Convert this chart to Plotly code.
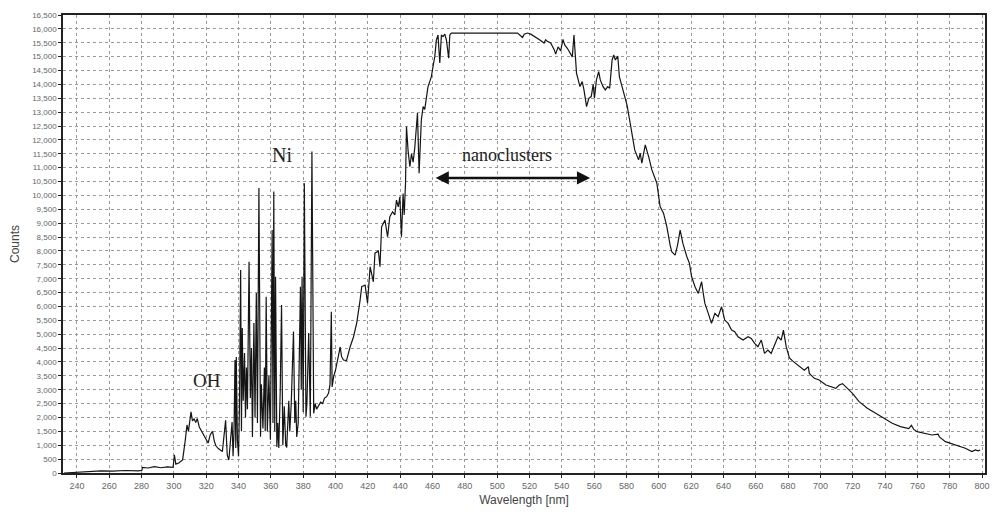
import plotly.graph_objects as go

# Spectrum: wavelength (nm) and counts
wavelength = [
    232, 249.8, 255, 262, 270, 278, 280.2, 280.6, 284, 288, 292, 296, 299.5, 300.3, 301.2, 303, 305.4,
    307.1, 308.1, 309, 310, 310.6, 311.5, 312.5, 313.5, 314.5, 315.7, 316.8, 318.1, 319.5, 321.2,
    322.5, 323.9, 325, 326, 327.5, 329, 330, 332, 333, 334, 336.0,
    336.6, 337.2, 337.8, 338.3, 338.6, 339.3, 340.0, 340.6, 341.3, 341.8, 342.3, 342.9, 343.7,
    344.3, 344.9, 345.5, 346.5, 347.3, 348.0, 348.6, 349.5, 350.2, 351.0, 351.7, 352.6, 353.6,
    354.1, 355.1, 356.0, 356.5, 357.1, 357.8, 358.8, 359.7, 360.8, 361.3, 361.8, 362.4, 362.9,
    363.7, 364.3, 364.9, 365.8, 366.6, 367.4, 368.3, 369.2, 369.8, 371.1, 371.7, 372.6, 374.0,
    374.8, 375.4, 376.0, 376.9, 378.3, 378.8, 379.3, 380.0, 380.7, 381.7, 382.3, 383.4, 384.4,
    385.4, 386.5, 387.4, 388.3, 389.5, 390.8, 392.0, 393.2, 394.5, 395.7, 396.6, 397.4, 397.9,
    398.8, 400.0, 401.2, 402.9, 403.7, 404.9, 406.8, 409.0, 411.1, 413.1, 415.2, 416.2, 418.3,
    419.8, 421.4, 423.4, 424.4, 426.5, 427.5, 428.5, 430.6, 432.2, 433.6, 435.3, 436.7, 437.7,
    438.8, 439.8, 440.8, 441.8, 442.5, 443.3, 443.9, 444.9, 446.0, 447.0, 448.0, 449.0, 450.7,
    451.7, 453.1, 454.2, 455.2, 456.2, 457.2, 458.3, 459.3, 460.3, 461.4, 462.4, 463.4, 464.5,
    465.5, 466.5, 467.6, 468.6, 470.0, 470.7, 471.6, 512.6, 514.7, 515.7, 516.7, 518.8, 520.8,
    522.9, 524.9, 526.9, 529.0, 530.0, 531.0, 533.1, 535.2, 536.2, 537.7, 539.3, 540.7, 541.8,
    543.4, 545.4, 546.5, 547.5, 548.5, 549.1, 550.0, 551.2, 552.6, 553.7, 555.3, 556.7, 558.2,
    559.4, 560.2, 561.4, 562.8, 563.8, 565.5, 566.9, 568.4, 569.6, 571.1, 572.1, 573.1, 574.6,
    575.6, 577.3, 578.7, 580.3, 582.3, 584.0, 585.1, 587.5, 588.5, 589.5, 591.6, 593.7, 595.7,
    598.8, 600.8, 602.9, 605.0, 607.0, 608.0, 610.1, 611.6, 613.2, 614.9, 617.3, 618.9, 620.3,
    622.4, 624.4, 626.5, 627.5, 628.5, 630.6, 632.6, 634.7, 636.7, 638.8, 640.8, 642.9, 645.0,
    647.0, 649.0, 652.1, 655.2, 657.2, 659.3, 661.3, 663.4, 665.4, 667.5, 669.5, 671.6, 673.7,
    675.7, 677.1, 678.8, 680.8, 682.9, 684.5, 686.9, 690.0, 692.5, 693.1, 696.2, 699.2, 703.4,
    706.4, 709.5, 711.6, 713.6, 716.7, 719.8, 723.9, 729.0, 734.2, 739.3, 744.4, 749.5, 754.6,
    756.3, 757.7, 759.8, 765.0, 769.0, 772.8, 773.6, 777.3, 783.4, 789.6, 793.7, 795.8, 797.6,
    798.8,
]
counts = [
    0, 60, 80, 70, 90, 80, 100, 200, 180, 230, 190, 220, 200, 650, 320, 360, 470,
    1200, 1730, 1500, 1980, 2200, 1880, 1950, 1820, 1960, 1660, 1550, 1440, 1300, 1080,
    1380, 1500, 1150, 980, 880, 820, 770, 1900, 650, 470, 1840,
    600, 1500, 4070, 900, 4180, 1200, 600, 2500, 7310, 1500, 5220, 2600, 4320,
    2000, 3800, 2300, 7610, 2700, 4500, 1300, 5400, 2000, 6480, 1800, 10270, 1310,
    3200, 1600, 3800, 1500, 6350, 1500, 3500, 1200, 8750, 1800, 10140, 1500, 7070,
    940, 1800, 900, 3000, 6050, 1000, 2400, 1000, 920, 2600, 1500, 2500, 5100,
    1800, 2600, 1300, 1800, 6710, 3000, 7070, 2200, 10440, 2030, 2500, 5040, 2030,
    11580, 2150, 2500, 2300, 2450, 2550, 2500, 2700, 2750, 2880, 3200, 5810, 3100,
    3460, 3710, 4100, 4540, 4200, 4070, 4050, 4540, 4900, 5400, 6230, 6710, 6770,
    6120, 7430, 6890, 7920, 8000, 7430, 8870, 9110, 8510, 9230, 9410, 9300, 9830,
    9590, 9950, 8510, 10070, 9300, 10440, 12480, 11600, 11040, 11500, 11200, 11700, 12970,
    10800, 12730, 13200, 13100, 13560, 13920, 14100, 14280, 14640, 15000, 15600, 15780, 14770,
    15780, 15720, 15810, 15600, 14940, 15780, 15850, 15850, 15720, 15690, 15810, 15850, 15810,
    15740, 15670, 15580, 15490, 15610, 15550, 15490, 15260, 15090, 15350, 15210, 15620, 15420,
    15300, 15130, 14990, 15780, 14950, 14400, 14200, 13920, 14100, 13800, 13200, 13500, 13560,
    14000, 13500, 14160, 14460, 14160, 13920, 13800, 13920, 13860, 14880, 15060, 14880, 15020,
    14280, 13920, 13680, 13260, 12600, 12000, 11640, 11280, 11520, 11160, 11820, 11400, 10920,
    10440, 9600, 9360, 8870, 8210, 7970, 7850, 8210, 8750, 8270, 7800, 7560, 7070,
    6710, 6470, 6890, 6470, 6110, 5750, 5390, 5750, 5630, 5990, 5510, 5390, 5150,
    5090, 4910, 4790, 4910, 4850, 4670, 4550, 4790, 4310, 4430, 4310, 4610, 4910,
    4790, 5150, 4550, 4150, 4030, 3950, 3830, 3700, 3830, 3590, 3410, 3350, 3170,
    3110, 3050, 3170, 3220, 3050, 2870, 2570, 2330, 2150, 1970, 1790, 1670, 1600,
    1720, 1570, 1490, 1430, 1370, 1400, 1300, 1130, 1010, 890, 770, 830, 800,
    830,
]

x_ticks = list(range(240, 801, 20))
y_ticks = list(range(0, 16501, 500))

serif = "Liberation Serif, DejaVu Serif, serif"
sans = "Liberation Sans, Arial, sans-serif"

fig = go.Figure()
fig.add_trace(go.Scatter(
    x=wavelength, y=counts, mode="lines",
    line=dict(color="#151515", width=1.2),
    showlegend=False, hoverinfo="skip",
))

fig.add_annotation(x=366.8, y=11460, text="Ni", showarrow=False,
                   font=dict(family=serif, size=20, color="#222"))
fig.add_annotation(x=320.6, y=3315, text="OH", showarrow=False,
                   font=dict(family=serif, size=19, color="#222"))
fig.add_annotation(x=505.8, y=11460, text="nanoclusters", showarrow=False,
                   font=dict(family=serif, size=18, color="#222"))
fig.add_annotation(x=557.5, y=10630, ax=461.0, ay=10630,
                   xref="x", yref="y", axref="x", ayref="y",
                   text="", showarrow=True, arrowhead=2, startarrowhead=2,
                   arrowside="end+start", arrowsize=1.1, arrowwidth=2.4,
                   arrowcolor="#111", startarrowsize=1.1)

fig.update_layout(
    width=997, height=515,
    margin=dict(l=63, r=7, t=15, b=42),
    paper_bgcolor="white", plot_bgcolor="white",
    font=dict(family=sans, color="#555"),
    xaxis=dict(
        range=[231.4, 801.8], tickvals=x_ticks, ticktext=[str(v) for v in x_ticks],
        showgrid=True, gridcolor="#9a9a9a", griddash="dot", gridwidth=1,
        showline=True, linecolor="#222", linewidth=1.5, mirror=True,
        ticks="outside", ticklen=3, tickcolor="#222",
        tickfont=dict(size=9, color="#666"), zeroline=False,
        title=dict(text="Wavelength [nm]", font=dict(size=12, color="#444"), standoff=6),
    ),
    yaxis=dict(
        range=[0, 16500], tickvals=y_ticks, tickformat=",d",
        showgrid=True, gridcolor="#9a9a9a", griddash="dot", gridwidth=1,
        showline=True, linecolor="#222", linewidth=1.5, mirror=True,
        ticks="outside", ticklen=3, tickcolor="#222",
        tickfont=dict(size=8, color="#666"), zeroline=False,
        title=dict(text="Counts", font=dict(size=12, color="#444"), standoff=10),
    ),
)

fig.write_html("out.html")
